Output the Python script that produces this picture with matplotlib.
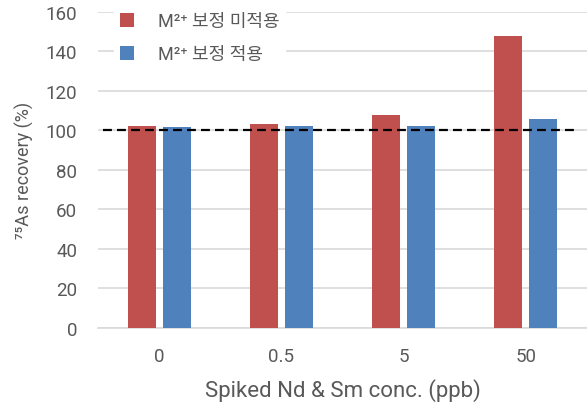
import matplotlib
matplotlib.use("Agg")
import matplotlib.pyplot as plt
import numpy as np

plt.rcParams['font.family'] = ['Roboto', 'Noto Sans CJK KR', 'DejaVu Sans']

categories = ['0', '0.5', '5', '50']
uncorrected = [102.4, 103.1, 107.8, 147.8]
corrected = [101.8, 102.4, 102.4, 105.8]
yticks = [0, 20, 40, 60, 80, 100, 120, 140, 160]

red = '#C0504D'
blue = '#4F81BD'
txt = '#595959'

fig = plt.figure(figsize=(5.87, 4.06), dpi=100)
ax = fig.add_axes([0.167, 0.190, 0.833, 0.778])

x = np.arange(len(categories))
w = 0.23
off = 0.143
ax.bar(x - off, uncorrected, w, color=red, label='M²⁺ 보정 미적용', zorder=3)
ax.bar(x + off, corrected, w, color=blue, label='M²⁺ 보정 적용', zorder=3)

ax.set_xlim(-0.5, len(categories) - 0.5)
ax.set_ylim(0, 160)
ax.set_yticks(yticks)
ax.set_xticks(x)
ax.set_xticklabels(categories)
ax.yaxis.grid(True, color='#D9D9D9', linewidth=1.2, zorder=0)
ax.set_axisbelow(True)
for s in ['left', 'right', 'top']:
    ax.spines[s].set_visible(False)
ax.spines['bottom'].set_color('#D9D9D9')
ax.spines['bottom'].set_linewidth(1.2)
ax.tick_params(axis='both', length=0, labelsize=13.5, colors=txt)
ax.tick_params(axis='y', pad=15)
ax.tick_params(axis='x', pad=14)

ax.axhline(100, xmin=0.01, xmax=0.98, color='black', linestyle=(0, (4, 2.3)), linewidth=1.6, zorder=4)

ax.set_xlabel('Spiked Nd & Sm conc. (ppb)', fontsize=16, color=txt, labelpad=9)
ax.set_ylabel('⁷⁵As recovery (%)', fontsize=13, color=txt, labelpad=8)

leg = ax.legend(loc='upper left', bbox_to_anchor=(0.195, 0.981), bbox_transform=fig.transFigure,
                frameon=True, fontsize=13,
                handlelength=0.8, handleheight=0.8, handletextpad=1.3, labelspacing=0.85,
                borderpad=0.3, borderaxespad=0.0)
leg.get_frame().set_facecolor('white')
leg.get_frame().set_edgecolor('white')
leg.get_frame().set_alpha(1)
leg.get_frame().set_boxstyle('square', pad=0)
for t in leg.get_texts():
    t.set_color(txt)

fig.savefig('out.png', dpi=100)
